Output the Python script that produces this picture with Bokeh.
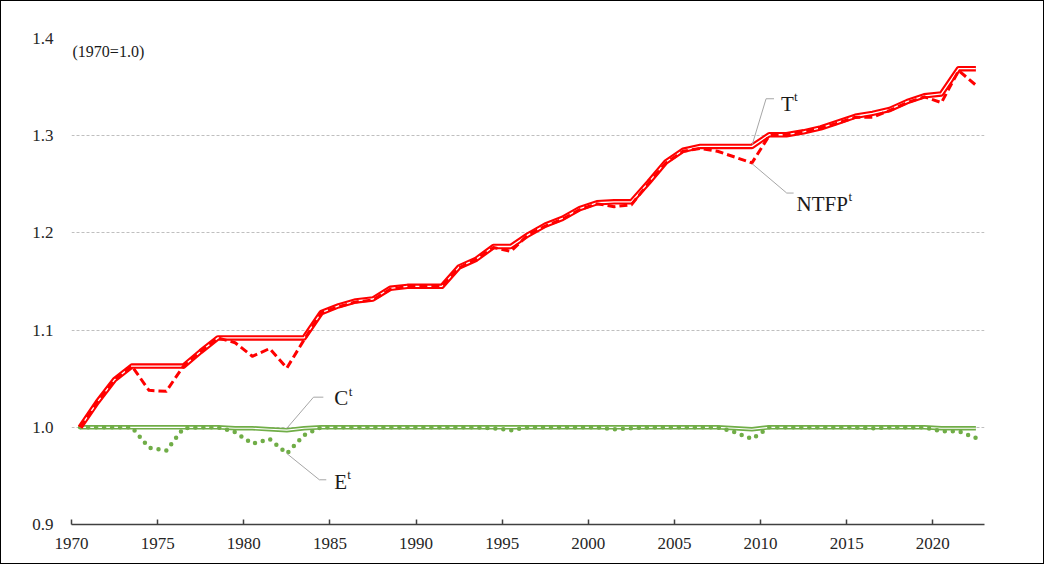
from bokeh.plotting import figure
from bokeh.models import Range1d, FixedTicker, Label, NumeralTickFormatter, BasicTickFormatter
from bokeh.embed import file_html
from bokeh.resources import INLINE

years = list(range(1970, 2023))

T = [1.000, 1.026, 1.049, 1.063, 1.063, 1.063, 1.063, 1.078, 1.092, 1.092,
     1.092, 1.092, 1.092, 1.092, 1.118, 1.125, 1.130, 1.132, 1.143, 1.145,
     1.145, 1.145, 1.165, 1.173, 1.186, 1.186, 1.198, 1.208, 1.215, 1.225,
     1.231, 1.232, 1.232, 1.252, 1.273, 1.285, 1.289, 1.289, 1.289, 1.289,
     1.301, 1.301, 1.304, 1.308, 1.314, 1.320, 1.323, 1.327, 1.335, 1.341,
     1.343, 1.369, 1.369]

NTFP = [1.000, 1.026, 1.049, 1.063, 1.038, 1.037, 1.063, 1.078, 1.092, 1.087,
        1.073, 1.081, 1.061, 1.090, 1.118, 1.124, 1.129, 1.131, 1.142, 1.145,
        1.145, 1.145, 1.164, 1.173, 1.185, 1.181, 1.198, 1.207, 1.214, 1.224,
        1.230, 1.227, 1.229, 1.251, 1.272, 1.284, 1.287, 1.284, 1.278, 1.272,
        1.300, 1.301, 1.304, 1.308, 1.313, 1.319, 1.319, 1.326, 1.334, 1.340,
        1.334, 1.367, 1.352]

C = [1.000, 1.000, 1.000, 1.000, 1.000, 1.000, 1.000, 1.000, 1.000, 0.999,
     0.999, 0.998, 0.997, 0.999, 1.000, 1.000, 1.000, 1.000, 1.000, 1.000,
     1.000, 1.000, 1.000, 1.000, 1.000, 1.000, 1.000, 1.000, 1.000, 1.000,
     1.000, 1.000, 1.000, 1.000, 1.000, 1.000, 1.000, 1.000, 0.999, 0.998,
     1.000, 1.000, 1.000, 1.000, 1.000, 1.000, 1.000, 1.000, 1.000, 1.000,
     0.999, 0.999, 0.999]

E = [1.000, 1.000, 1.000, 1.000, 0.979, 0.976, 0.999, 1.000, 1.000, 0.995,
     0.983, 0.988, 0.973, 0.992, 1.000, 1.000, 1.000, 1.000, 1.000, 1.000,
     1.000, 1.000, 1.000, 1.000, 0.999, 0.997, 1.000, 1.000, 1.000, 1.000,
     1.000, 0.998, 0.999, 1.000, 1.000, 1.000, 1.000, 1.000, 0.995, 0.988,
     1.000, 1.000, 1.000, 1.000, 1.000, 1.000, 0.999, 1.000, 1.000, 1.000,
     0.996, 0.996, 0.989]

x_ticks = [1970, 1975, 1980, 1985, 1990, 1995, 2000, 2005, 2010, 2015, 2020]
y_ticks = [0.9, 1.0, 1.1, 1.2, 1.3, 1.4]

RED = "#FF0000"
GREEN = "#70AD47"
FONT = "Liberation Serif"

# points sit in the middle of each year
xs = [y + 0.5 for y in years]

p = figure(width=1044, height=564, output_backend="svg", toolbar_location=None,
           x_range=Range1d(1970, 2023), y_range=Range1d(0.9, 1.4),
           min_border_left=70, min_border_right=61, min_border_top=37, min_border_bottom=41)
p.styles = {"border": "1px solid #000000"}
p.outline_line_color = None
p.background_fill_color = "white"

p.xgrid.visible = False
p.ygrid.ticker = FixedTicker(ticks=y_ticks)
p.ygrid.grid_line_color = "#bfbfbf"
p.ygrid.grid_line_dash = "3 2"
p.ygrid.grid_line_width = 1

p.xaxis.ticker = FixedTicker(ticks=x_ticks)
p.xaxis.formatter = BasicTickFormatter(use_scientific=False)
p.xaxis.axis_line_color = "#404040"
p.xaxis.axis_line_width = 1.5
p.xaxis.major_tick_in = 5
p.xaxis.major_tick_out = 0
p.xaxis.major_tick_line_color = "#404040"
p.xaxis.major_tick_line_width = 1.5
p.xaxis.minor_tick_line_color = None
p.xaxis.major_label_standoff = 13
p.xaxis.major_label_text_font = FONT
p.xaxis.major_label_text_font_size = "17px"
p.xaxis.major_label_text_color = "#262626"

p.yaxis.ticker = FixedTicker(ticks=y_ticks)
p.yaxis.formatter = NumeralTickFormatter(format="0.0")
p.yaxis.axis_line_color = None
p.yaxis.major_tick_line_color = None
p.yaxis.minor_tick_line_color = None
p.yaxis.major_label_standoff = 12
p.yaxis.major_label_text_font = FONT
p.yaxis.major_label_text_font_size = "17px"
p.yaxis.major_label_text_color = "#262626"

# C (double green line) and E (dotted green)
p.line(xs, C, line_color=GREEN, line_width=4.5, line_join="round")
p.line(xs, C, line_color="white", line_width=1.2, line_join="round")
p.line(xs, E, line_color=GREEN, line_width=4.5, line_dash="0 8", line_cap="round")

# T (double red line) and NTFP (dashed red)
p.line(xs, T, line_color=RED, line_width=5.5, line_join="round")
p.line(xs, T, line_color="white", line_width=1.3, line_join="round")
p.line(xs, NTFP, line_color=RED, line_width=3, line_dash="8 4", line_join="round")

# leader lines
LEAD = "#a6a6a6"
p.line([2009.52, 2010.32, 2010.78], [1.291, 1.338, 1.338], line_color=LEAD, line_width=1)
p.line([2009.52, 2011.52, 2011.92], [1.271, 1.241, 1.241], line_color=LEAD, line_width=1)
p.line([1982.5, 1984.05, 1984.62], [0.999, 1.031, 1.031], line_color=LEAD, line_width=1)
p.line([1982.5, 1984.39, 1984.79], [0.973, 0.946, 0.946], line_color=LEAD, line_width=1)

def label(x, y, txt, sup_dx):
    p.add_layout(Label(x=x, y=y, text=txt, text_font=FONT, text_font_size="21px",
                       text_color="#1a1a1a", text_baseline="alphabetic", text_align="left"))
    p.add_layout(Label(x=x, y=y, text="t", x_offset=sup_dx, y_offset=7,
                       text_font=FONT, text_font_size="13px",
                       text_color="#1a1a1a", text_baseline="alphabetic", text_align="left"))

label(2011.18, 1.333, "T", 13)
label(2012.09, 1.230, "NTFP", 52)
label(1985.25, 1.030, "C", 14.5)
label(1985.25, 0.944, "E", 13)

p.add_layout(Label(x=1970.06, y=1.387, text="(1970=1.0)", text_font=FONT,
                   text_font_size="16px", text_color="#1a1a1a",
                   text_baseline="alphabetic", text_align="left"))

open("out.html", "w").write(file_html(p, INLINE))
